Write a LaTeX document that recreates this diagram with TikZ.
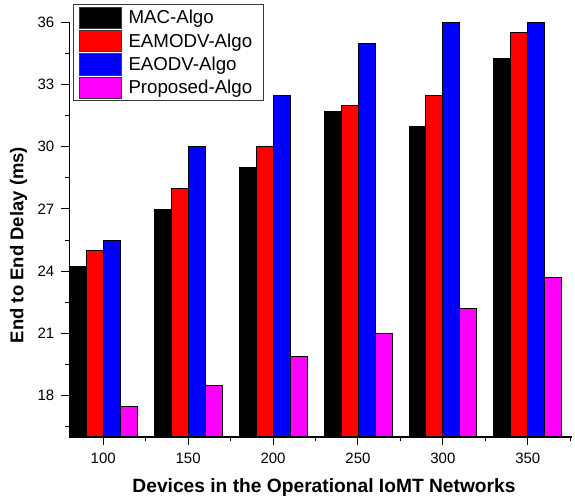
\documentclass[tikz,border=0pt]{standalone}
\usepackage{fontspec}
\setmainfont{Liberation Sans}
\definecolor{cMAC}{HTML}{000000}
\definecolor{cEAM}{HTML}{FF0000}
\definecolor{cEAO}{HTML}{0000FF}
\definecolor{cPRO}{HTML}{FF00FF}
\definecolor{legedge}{HTML}{3A3A3A}
\tikzset{
  bar/.style={draw=black, line width=0.8pt},
  axisline/.style={line width=1.2pt, line cap=rect},
  ticklab/.style={inner sep=0pt, font=\fontsize{15}{18}\selectfont},
  axtitle/.style={inner sep=0pt, font=\fontsize{18.5}{22}\selectfont\bfseries},
  legtext/.style={inner sep=0pt, anchor=base west, font=\fontsize{18.7}{22}\selectfont},
  swatch/.style={draw=legedge, line width=0.8pt},
}
\begin{document}
\begin{tikzpicture}
\useasboundingbox (0,0) rectangle (575pt,499pt);
\begin{scope}[shift={(-66.54pt,-269.68pt)}, x=1.698pt, y=20.73pt]
  % bars
  \foreach \c/\a/\b/\e/\p in {100/24.25/25/25.5/17.5, 150/27/28/30/18.5, 200/29/30/32.5/19.9, 250/31.7/32/35/21, 300/31/32.5/36/22.2, 350/34.25/35.5/36/23.7}{
    \draw[bar, fill=cMAC] (\c-20,16) rectangle (\c-10,\a);
    \draw[bar, fill=cEAM] (\c-10,16) rectangle (\c,\b);
    \draw[bar, fill=cEAO] (\c,16) rectangle (\c+10,\e);
    \draw[bar, fill=cPRO] (\c+10,16) rectangle (\c+20,\p);
  }
  % axes
  \coordinate (org) at (80,16);
  \coordinate (ytop) at (80,36);
  \coordinate (xend) at (375.9,16);
  \draw[axisline] (ytop) -- (org) -- (xend);
  % y ticks
  \foreach \v in {18,21,...,36}{
    \draw[line width=1pt] (80,\v) -- ++(-8pt,0);
    \node[ticklab, anchor=east] (yl\v) at ([xshift=-14.8pt]80,\v) {\v};
  }
  \foreach \v in {16.5,19.5,...,34.5}{
    \draw[line width=1pt] (80,\v) -- ++(-4pt,0);
  }
  % x ticks
  \foreach \v in {100,150,...,350}{
    \draw[line width=1pt] (\v,16) -- ++(0,-8pt);
    \node[ticklab, anchor=base] (xl\v) at ([yshift=-26.3pt]\v,16) {\v};
  }
  \foreach \v in {125,175,...,375}{
    \draw[line width=1pt] (\v,16) -- ++(0,-4pt);
  }
\end{scope}
% axis titles
\node[axtitle, rotate=90] (ytitle) at (18.5pt,254pt) {End to End Delay (ms)};
\node[axtitle, anchor=base, font=\fontsize{19.2}{22}\selectfont\bfseries] (xtitle) at (324pt,6.3pt) {Devices in the Operational IoMT Networks};
% legend
\draw[line width=0.9pt, draw=legedge, fill=white] (73.3pt,494.3pt) rectangle (263.3pt,398.3pt);
\foreach \k/\col/\txt in {0/cMAC/MAC-Algo, 1/cEAM/EAMODV-Algo, 2/cEAO/EAODV-Algo, 3/cPRO/Proposed-Algo}{
  \draw[swatch, fill=\col] (79pt,{(499-7.3-23.3*\k)*1pt}) rectangle (121.7pt,{(499-28.6-23.3*\k)*1pt});
  \node[legtext] (leg\k) at (128.3pt,{(499-23.8-23.3*\k)*1pt}) {\txt};
}
\end{tikzpicture}
\end{document}
